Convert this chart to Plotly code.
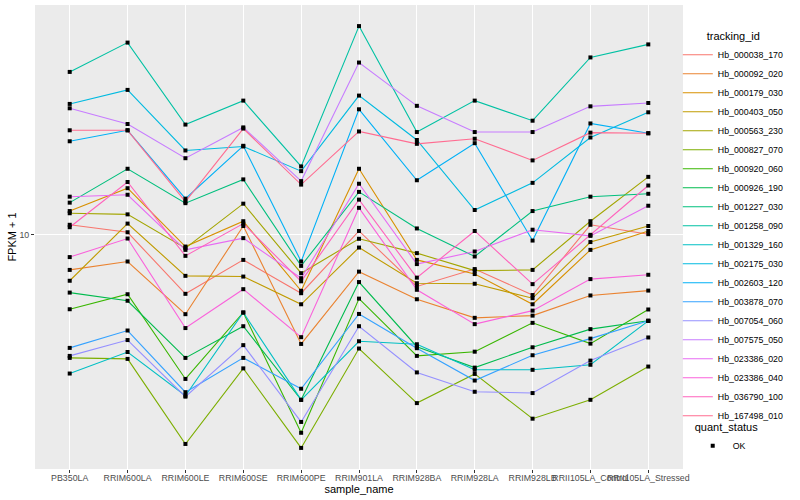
import numpy as np
import plotly.graph_objects as go

samples = ["PB350LA", "RRIM600LA", "RRIM600LE", "RRIM600SE", "RRIM600PE", "RRIM901LA",
           "RRIM928BA", "RRIM928LA", "RRIM928LB", "RRII105LA_Control", "RRII105LA_Stressed"]

tracking_ids = ["Hb_000038_170", "Hb_000092_020", "Hb_000179_030", "Hb_000403_050", "Hb_000563_230",
                "Hb_000827_070", "Hb_000920_060", "Hb_000926_190", "Hb_001227_030", "Hb_001258_090",
                "Hb_001329_160", "Hb_002175_030", "Hb_002603_120", "Hb_003878_070", "Hb_007054_060",
                "Hb_007575_050", "Hb_023386_020", "Hb_023386_040", "Hb_036790_100", "Hb_167498_010"]

# FPKM + 1 values per gene, in sample order
hb_000038_170 = [10.8, 10.2, 6.36, 8.25, 6.39, 10.3, 6.73, 7.69, 6.3, 10.8, 10.05]
hb_000092_020 = [7.64, 8.15, 5.44, 10.7, 4.33, 7.54, 6.10, 5.29, 5.38, 6.28, 6.52]
hb_000179_030 = [12.0, 14.3, 9.14, 11.1, 6.51, 16.6, 8.25, 7.40, 5.87, 8.91, 10.3]
hb_000403_050 = [7.03, 10.9, 7.30, 7.26, 5.87, 9.07, 6.90, 6.87, 6.15, 9.46, 10.7]
hb_000563_230 = [11.8, 11.7, 9.03, 12.7, 7.45, 9.70, 8.69, 7.60, 7.64, 11.1, 15.6]
hb_000827_070 = [3.89, 3.86, 2.01, 3.59, 1.95, 4.18, 2.75, 3.44, 2.44, 2.82, 3.64]
hb_000920_060 = [5.65, 6.34, 3.31, 5.51, 2.19, 6.13, 3.95, 4.08, 5.09, 4.34, 5.64]
hb_000926_190 = [6.42, 6.03, 3.89, 4.96, 2.82, 6.96, 4.24, 3.61, 4.22, 4.85, 5.17]
hb_001227_030 = [12.8, 16.6, 12.75, 15.3, 7.88, 13.9, 10.5, 8.47, 12.0, 13.4, 13.7]
hb_001258_090 = [34.9, 43.7, 23.3, 28.0, 16.9, 49.6, 22.0, 28.0, 24.0, 39.0, 43.1]
hb_001329_160 = [3.45, 4.07, 2.91, 5.51, 2.82, 4.42, 4.32, 3.55, 3.55, 3.69, 5.17]
hb_002175_030 = [27.3, 30.4, 19.1, 19.7, 16.3, 29.1, 20.7, 12.1, 14.9, 21.1, 25.6]
hb_002603_120 = [20.5, 22.3, 13.2, 19.8, 8.15, 26.2, 15.2, 20.2, 9.57, 23.5, 21.8]
hb_003878_070 = [4.20, 4.80, 2.99, 3.89, 3.07, 5.45, 4.19, 3.27, 3.97, 4.51, 5.17]
hb_007054_060 = [3.95, 4.46, 2.89, 4.29, 2.38, 4.96, 3.48, 3.00, 2.97, 3.81, 4.55]
hb_007575_050 = [26.4, 23.4, 18.0, 22.8, 15.1, 37.5, 26.9, 22.0, 22.0, 26.8, 27.5]
hb_023386_020 = [13.4, 13.6, 8.91, 9.75, 7.17, 14.8, 7.99, 8.80, 10.4, 9.92, 12.5]
hb_023386_040 = [8.43, 9.72, 4.89, 6.59, 4.56, 12.3, 6.56, 5.04, 5.59, 7.12, 7.36]
hb_036790_100 = [10.6, 15.0, 8.51, 10.9, 7.00, 13.1, 7.20, 10.3, 6.85, 10.0, 14.6]
hb_167498_010 = [22.3, 22.3, 12.9, 22.6, 14.7, 22.1, 20.1, 20.9, 17.7, 21.9, 21.8]

series = [hb_000038_170, hb_000092_020, hb_000179_030, hb_000403_050, hb_000563_230,
          hb_000827_070, hb_000920_060, hb_000926_190, hb_001227_030, hb_001258_090,
          hb_001329_160, hb_002175_030, hb_002603_120, hb_003878_070, hb_007054_060,
          hb_007575_050, hb_023386_020, hb_023386_040, hb_036790_100, hb_167498_010]

colors = ["#F8766D", "#EA8331", "#D89000", "#C09B00", "#A3A500", "#7CAE00", "#39B600", "#00BB4E",
          "#00BF7D", "#00C1A3", "#00BFC4", "#00BAE0", "#00B0F6", "#35A2FF", "#9590FF", "#C77CFF",
          "#E76BF3", "#FA62DB", "#FF62BC", "#FF6C91"]

y_ticks = [10]
quant_status = "OK"

FONT = "Liberation Sans, Arial, Helvetica, sans-serif"

fig = go.Figure()
for name, vals, col in zip(tracking_ids, series, colors):
    fig.add_trace(go.Scatter(x=samples, y=vals, mode="lines", name=name,
                             line=dict(color=col, width=1.1), legend="legend"))
for i, (name, vals) in enumerate(zip(tracking_ids, series)):
    fig.add_trace(go.Scatter(x=samples, y=vals, mode="markers", name=quant_status,
                             marker=dict(color="black", symbol="square", size=4),
                             showlegend=(i == 0), legend="legend2", hoverinfo="skip"))

allv = np.log10(np.concatenate([np.array(s) for s in series]))
lo, hi = allv.min(), allv.max()
pad = 0.05 * (hi - lo)

fig.update_layout(
    width=800, height=500,
    margin=dict(l=35, r=117, t=5, b=31, autoexpand=False),
    paper_bgcolor="white", plot_bgcolor="#EBEBEB",
    font=dict(family=FONT, color="black"),
    xaxis=dict(type="category", categoryorder="array", categoryarray=samples, automargin=False,
               range=[-0.6, len(samples) - 0.4], showgrid=True, gridcolor="white", gridwidth=1.1,
               zeroline=False, showline=False, ticks="outside", ticklen=3, tickcolor="#333333",
               tickangle=0, tickfont=dict(size=8.8, color="#4D4D4D", family=FONT),
               ticklabelstandoff=-3,
               title=dict(text="sample_name", font=dict(size=11, color="black"), standoff=1)),
    yaxis=dict(type="log", range=[lo - pad, hi + pad], tickvals=y_ticks, ticktext=[str(t) for t in y_ticks],
               automargin=False,
               showgrid=True, gridcolor="white", gridwidth=1.1, zeroline=False, showline=False,
               ticks="outside", ticklen=3, tickcolor="#333333",
               tickfont=dict(size=8.8, color="#4D4D4D", family=FONT),
               title=dict(text="FPKM + 1", font=dict(size=11, color="black"), standoff=0)),
    legend=dict(title=dict(text="tracking_id", font=dict(size=11), side="top center"),
                font=dict(size=8.8, family=FONT),
                x=0.992, xanchor="left", y=0.955, yanchor="top", bgcolor="rgba(0,0,0,0)",
                tracegroupgap=0),
    legend2=dict(title=dict(text="quant_status", font=dict(size=11)), font=dict(size=8.8, family=FONT),
                 x=1.015, xanchor="left", y=0.112, yanchor="top", bgcolor="rgba(0,0,0,0)"),
    showlegend=True,
)

fig.write_html("out.html", config={"displayModeBar": False},
               post_script="document.body.style.margin='0px';")
